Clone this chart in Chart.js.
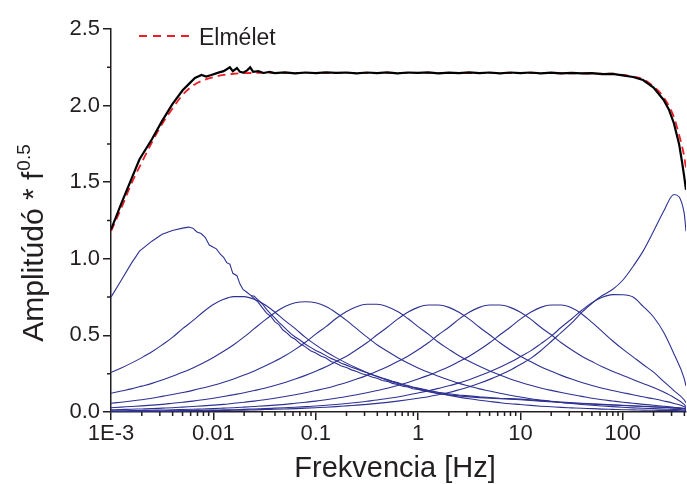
<!DOCTYPE html>
<html>
<head>
<meta charset="utf-8">
<script src="https://cdn.jsdelivr.net/npm/chart.js@4.4.1/dist/chart.umd.min.js"></script>
<style>
  html, body { margin: 0; padding: 0; background: #fff; }
  canvas { display: block; }
</style>
</head>
<body>
<canvas id="myChart" width="687" height="484"></canvas>
<script>
// shared frequency grid (Hz) for the smooth band curves
const freq = [0.001, 0.00126, 0.00158, 0.002, 0.00251, 0.00316, 0.00398, 0.00501, 0.00631, 0.00794,
  0.01, 0.0126, 0.0158, 0.02, 0.0251, 0.0316, 0.0398, 0.0501, 0.0631, 0.0794,
  0.1, 0.126, 0.158, 0.2, 0.251, 0.316, 0.398, 0.501, 0.631, 0.794,
  1, 1.26, 1.58, 2, 2.51, 3.16, 3.98, 5.01, 6.31, 7.94,
  10, 12.6, 15.8, 20, 25.1, 31.6, 39.8, 50.1, 63.1, 79.4,
  100, 126, 158, 200, 251, 316, 398, 415];

// lowest band is noisy, so it has its own, denser grid
const band1Freq = [0.001, 0.00126, 0.00158, 0.0019, 0.00251, 0.00316, 0.00398, 0.00501, 0.00575, 0.00631,
  0.00692, 0.00759, 0.00832, 0.00912, 0.01, 0.0107, 0.0117, 0.0126, 0.0135, 0.0145,
  0.0155, 0.017, 0.0182, 0.0195, 0.0214, 0.0234, 0.0251, 0.0275, 0.0302, 0.0331,
  0.0363, 0.0398, 0.0437, 0.0479, 0.0525, 0.0575, 0.0631, 0.0708, 0.0794, 0.0891,
  0.1, 0.112, 0.126, 0.141, 0.158, 0.178, 0.2, 0.224, 0.251, 0.282,
  0.316, 0.355, 0.398, 0.447, 0.501, 0.562, 0.631, 0.708, 0.794, 0.891,
  1, 1.26, 1.58, 2, 2.51, 3.16, 3.98, 5.01, 6.31, 7.94,
  10, 15.8, 25.1, 39.8, 63.1, 100, 158, 251, 398, 415];
const band1 = [0.75, 0.86, 0.97, 1.05, 1.115, 1.16, 1.185, 1.2, 1.207, 1.2,
  1.175, 1.165, 1.14, 1.09, 1.075, 1.065, 1.03, 1.01, 0.975, 0.965,
  0.905, 0.89, 0.835, 0.80, 0.78, 0.76, 0.74, 0.715, 0.68, 0.645,
  0.625, 0.59, 0.57, 0.535, 0.515, 0.49, 0.475, 0.445, 0.425, 0.40,
  0.385, 0.365, 0.352, 0.33, 0.318, 0.30, 0.29, 0.275, 0.265, 0.25,
  0.242, 0.228, 0.22, 0.206, 0.20, 0.187, 0.18, 0.168, 0.163, 0.152,
  0.147, 0.132, 0.12, 0.112, 0.105, 0.099, 0.094, 0.09, 0.086, 0.083,
  0.08, 0.07, 0.062, 0.054, 0.048, 0.042, 0.036, 0.03, 0.022, 0.018];

// second noisy trace running just above the lowest band's tail
const band1bFreq = [0.0234, 0.0251, 0.0275, 0.0302, 0.0331, 0.0363, 0.0398, 0.0437, 0.0479, 0.0525,
  0.0575, 0.0631, 0.0708, 0.0794, 0.0891, 0.1, 0.112, 0.126, 0.141, 0.158,
  0.178, 0.2, 0.224, 0.251, 0.282, 0.316, 0.355, 0.398, 0.447, 0.501,
  0.562, 0.631, 0.708, 0.794, 0.891, 1, 1.26, 1.58, 2, 2.51,
  3.16, 3.98, 5.01, 6.31, 7.94, 10, 15.8, 25.1, 39.8, 63.1,
  100, 158, 251, 398, 415];
const band1b = [0.76, 0.755, 0.73, 0.705, 0.67, 0.64, 0.615, 0.585, 0.56, 0.535,
  0.51, 0.49, 0.468, 0.442, 0.422, 0.402, 0.386, 0.368, 0.35, 0.336,
  0.318, 0.306, 0.292, 0.28, 0.267, 0.256, 0.243, 0.233, 0.221, 0.212,
  0.20, 0.192, 0.18, 0.173, 0.163, 0.156, 0.141, 0.128, 0.119, 0.111,
  0.105, 0.099, 0.095, 0.09, 0.087, 0.084, 0.074, 0.065, 0.057, 0.05,
  0.044, 0.038, 0.031, 0.023, 0.019];

const band2 = [0.258, 0.287, 0.319, 0.355, 0.393, 0.438, 0.487, 0.544, 0.596, 0.653,
  0.702, 0.736, 0.753, 0.753, 0.736, 0.702, 0.653, 0.596, 0.544, 0.487,
  0.438, 0.393, 0.355, 0.319, 0.287, 0.258, 0.232, 0.208, 0.187, 0.168,
  0.151, 0.136, 0.122, 0.109, 0.097, 0.086, 0.077, 0.069, 0.061, 0.054,
  0.049, 0.043, 0.038, 0.034, 0.030, 0.027, 0.024, 0.022, 0.019, 0.017,
  0.015, 0.014, 0.012, 0.011, 0.010, 0.009, 0.007, 0.006];
const band3 = [0.122, 0.137, 0.151, 0.169, 0.187, 0.209, 0.234, 0.259, 0.288, 0.320,
  0.356, 0.396, 0.439, 0.490, 0.544, 0.598, 0.648, 0.688, 0.713, 0.72,
  0.713, 0.688, 0.648, 0.598, 0.544, 0.490, 0.439, 0.396, 0.356, 0.320,
  0.288, 0.259, 0.234, 0.209, 0.187, 0.169, 0.151, 0.137, 0.122, 0.109,
  0.098, 0.087, 0.078, 0.069, 0.062, 0.055, 0.049, 0.044, 0.039, 0.035,
  0.031, 0.027, 0.024, 0.022, 0.019, 0.017, 0.012, 0.01];
const band4 = [0.057, 0.064, 0.072, 0.080, 0.090, 0.102, 0.114, 0.127, 0.141, 0.157,
  0.174, 0.194, 0.216, 0.241, 0.268, 0.298, 0.331, 0.367, 0.409, 0.455,
  0.508, 0.557, 0.610, 0.656, 0.687, 0.703, 0.703, 0.687, 0.656, 0.610,
  0.557, 0.508, 0.455, 0.409, 0.367, 0.331, 0.298, 0.268, 0.241, 0.216,
  0.194, 0.174, 0.157, 0.141, 0.127, 0.114, 0.102, 0.090, 0.080, 0.072,
  0.064, 0.057, 0.050, 0.044, 0.038, 0.031, 0.022, 0.017];
const band5 = [0.028, 0.032, 0.036, 0.040, 0.045, 0.050, 0.057, 0.064, 0.071, 0.080,
  0.090, 0.101, 0.113, 0.126, 0.140, 0.155, 0.173, 0.193, 0.215, 0.239,
  0.266, 0.295, 0.329, 0.364, 0.406, 0.452, 0.504, 0.553, 0.606, 0.651,
  0.683, 0.698, 0.698, 0.683, 0.651, 0.606, 0.553, 0.504, 0.452, 0.406,
  0.364, 0.329, 0.295, 0.266, 0.239, 0.215, 0.193, 0.173, 0.155, 0.140,
  0.126, 0.113, 0.099, 0.086, 0.072, 0.056, 0.034, 0.025];
const band6 = [0.014, 0.016, 0.018, 0.020, 0.022, 0.025, 0.028, 0.032, 0.036, 0.040,
  0.045, 0.050, 0.057, 0.064, 0.071, 0.080, 0.090, 0.101, 0.113, 0.126,
  0.140, 0.155, 0.173, 0.193, 0.215, 0.239, 0.266, 0.295, 0.329, 0.364,
  0.406, 0.452, 0.504, 0.553, 0.606, 0.651, 0.683, 0.698, 0.698, 0.683,
  0.651, 0.606, 0.553, 0.504, 0.452, 0.406, 0.364, 0.329, 0.295, 0.266,
  0.239, 0.212, 0.186, 0.160, 0.130, 0.095, 0.05, 0.035];
const band7 = [0.007, 0.008, 0.009, 0.010, 0.011, 0.013, 0.014, 0.016, 0.018, 0.020,
  0.022, 0.025, 0.028, 0.032, 0.036, 0.040, 0.045, 0.050, 0.057, 0.064,
  0.071, 0.080, 0.090, 0.101, 0.113, 0.126, 0.140, 0.155, 0.173, 0.193,
  0.215, 0.239, 0.266, 0.295, 0.329, 0.364, 0.406, 0.452, 0.504, 0.553,
  0.606, 0.651, 0.683, 0.698, 0.698, 0.680, 0.640, 0.585, 0.525, 0.465,
  0.41, 0.36, 0.31, 0.26, 0.20, 0.14, 0.08, 0.06];
const band8 = [0.004, 0.004, 0.005, 0.005, 0.006, 0.007, 0.008, 0.009, 0.010, 0.011,
  0.012, 0.014, 0.015, 0.017, 0.020, 0.022, 0.025, 0.028, 0.031, 0.035,
  0.039, 0.044, 0.049, 0.055, 0.062, 0.070, 0.078, 0.088, 0.098, 0.111,
  0.124, 0.138, 0.154, 0.171, 0.190, 0.211, 0.236, 0.263, 0.292, 0.324,
  0.361, 0.399, 0.445, 0.495, 0.553, 0.607, 0.664, 0.714, 0.749, 0.766,
  0.765, 0.75, 0.69, 0.62, 0.52, 0.38, 0.22, 0.17];
const band9 = [0.003, 0.003, 0.004, 0.004, 0.005, 0.005, 0.006, 0.006, 0.007, 0.008,
  0.009, 0.010, 0.011, 0.012, 0.014, 0.016, 0.018, 0.020, 0.022, 0.025,
  0.028, 0.031, 0.035, 0.040, 0.045, 0.050, 0.056, 0.063, 0.071, 0.080,
  0.090, 0.100, 0.113, 0.127, 0.145, 0.165, 0.188, 0.213, 0.242, 0.273,
  0.31, 0.35, 0.40, 0.46, 0.52, 0.58, 0.65, 0.71, 0.76, 0.80,
  0.86, 0.95, 1.05, 1.18, 1.31, 1.42, 1.30, 1.18];

// measured total (black)
const measFreq = [0.001, 0.00126, 0.00158, 0.0019, 0.00251, 0.00316, 0.00398, 0.00501, 0.00575, 0.00661,
  0.00767, 0.00851, 0.00955, 0.0112, 0.0126, 0.0145, 0.0155, 0.017, 0.0182, 0.0195,
  0.0214, 0.0229, 0.0245, 0.0275, 0.0309, 0.0355, 0.0398, 0.0501, 0.0631, 0.0794,
  0.1, 0.126, 0.158, 0.2, 0.251, 0.316, 0.398, 0.501, 0.631, 0.794,
  1, 1.26, 1.58, 2, 2.51, 3.16, 3.98, 5.01, 6.31, 7.94,
  10, 12.6, 15.8, 20, 25.1, 31.6, 39.8, 50.1, 63.1, 79.4,
  100, 126, 158, 200, 251, 282, 316, 355, 380, 398, 415];
const measVal = [1.19, 1.36, 1.52, 1.65, 1.78, 1.90, 2.01, 2.10, 2.14, 2.18,
  2.20, 2.19, 2.20, 2.215, 2.225, 2.25, 2.225, 2.245, 2.22, 2.215,
  2.23, 2.25, 2.22, 2.225, 2.213, 2.22, 2.212, 2.217, 2.211, 2.216,
  2.212, 2.217, 2.213, 2.216, 2.211, 2.216, 2.212, 2.217, 2.211, 2.216,
  2.213, 2.217, 2.211, 2.215, 2.212, 2.217, 2.212, 2.216, 2.211, 2.216,
  2.212, 2.216, 2.211, 2.215, 2.211, 2.214, 2.21, 2.212, 2.206, 2.207,
  2.197, 2.187, 2.167, 2.117, 2.037, 1.975, 1.885, 1.75, 1.63, 1.54, 1.45];

// theory (red dashed)
const theoryFreq = [0.001, 0.00126, 0.00158, 0.002, 0.00251, 0.00316, 0.00398, 0.00501, 0.00631, 0.00794,
  0.01, 0.0126, 0.0158, 0.025, 1, 79.4, 100, 126, 158, 200, 251, 316, 355, 398, 415];
const theoryVal = [1.18, 1.33, 1.49, 1.63, 1.76, 1.88, 1.98, 2.07, 2.13, 2.165,
  2.185, 2.2, 2.208, 2.213, 2.213, 2.208, 2.2, 2.19, 2.172, 2.125, 2.055, 1.925, 1.81, 1.67, 1.59];

const xMajorTicks = [0.001, 0.01, 0.1, 1, 10, 100];
const xTickLabels = ["1E-3", "0.01", "0.1", "1", "10", "100"];
const xMinorTicks = [0.002, 0.003, 0.004, 0.005, 0.006, 0.007, 0.008, 0.009,
  0.02, 0.03, 0.04, 0.05, 0.06, 0.07, 0.08, 0.09,
  0.2, 0.3, 0.4, 0.5, 0.6, 0.7, 0.8, 0.9,
  2, 3, 4, 5, 6, 7, 8, 9,
  20, 30, 40, 50, 60, 70, 80, 90,
  200, 300, 400];
const yMinorTicks = [0.25, 0.75, 1.25, 1.75, 2.25];

const ink = "#231f20";
const blue = "#2e3192";
const font = "'Liberation Sans', Arial, sans-serif";

const toPoints = (xs, ys) => xs.map((f, i) => ({ x: f, y: ys[i] }));

const noisyLine = (label, xs, ys) => ({
  label,
  data: toPoints(xs, ys),
  borderColor: blue,
  borderWidth: 1.1,
  pointRadius: 0,
  tension: 0,
  order: 3,
});

const smoothBands = [band2, band3, band4, band5, band6, band7, band8, band9];
const bandSets = smoothBands.map((b, i) => ({
  label: "band" + (i + 2),
  data: toPoints(freq, b),
  borderColor: blue,
  borderWidth: 1.1,
  pointRadius: 0,
  cubicInterpolationMode: "monotone",
  order: 3,
}));

const extras = {
  id: "extras",
  afterDraw(chart) {
    const { ctx, chartArea, scales } = chart;
    const x = scales.x, y = scales.y;
    ctx.save();
    ctx.strokeStyle = ink;
    ctx.lineWidth = 1.5;
    ctx.beginPath();
    xMinorTicks.forEach((v) => {
      const px = x.getPixelForValue(v);
      if (px > chartArea.right + 0.5) return;
      ctx.moveTo(px, chartArea.bottom);
      ctx.lineTo(px, chartArea.bottom + 4);
    });
    yMinorTicks.forEach((v) => {
      const py = y.getPixelForValue(v);
      ctx.moveTo(chartArea.left, py);
      ctx.lineTo(chartArea.left - 4, py);
    });
    ctx.stroke();

    // legend inside the plot
    ctx.strokeStyle = "#ee1c25";
    ctx.lineWidth = 2;
    ctx.setLineDash([8, 6]);
    ctx.beginPath();
    ctx.moveTo(139, 36);
    ctx.lineTo(192, 36);
    ctx.stroke();
    ctx.setLineDash([]);
    ctx.fillStyle = ink;
    ctx.font = "23px " + font;
    ctx.textBaseline = "alphabetic";
    ctx.textAlign = "left";
    ctx.fillText("Elmélet", 199, 45);

    // axis titles
    ctx.font = "29px " + font;
    ctx.textAlign = "center";
    ctx.fillText("Frekvencia [Hz]", 395, 477);

    ctx.translate(43, 243);
    ctx.rotate(-Math.PI / 2);
    ctx.textAlign = "left";
    ctx.font = "30px " + font;
    const main = "Amplitúdó * f";
    const w1 = ctx.measureText(main).width;
    ctx.font = "19px " + font;
    const w2 = ctx.measureText("0.5").width;
    const x0 = -(w1 + w2 + 1) / 2;
    ctx.font = "30px " + font;
    ctx.fillText(main, x0, 0);
    ctx.font = "19px " + font;
    ctx.fillText("0.5", x0 + w1 + 1, -13);
    ctx.restore();
  },
};

new Chart(document.getElementById("myChart"), {
  type: "line",
  data: {
    datasets: [
      {
        label: "measured",
        data: toPoints(measFreq, measVal),
        borderColor: "#000",
        borderWidth: 2.2,
        pointRadius: 0,
        tension: 0,
        order: 1,
      },
      {
        label: "Elmélet",
        data: toPoints(theoryFreq, theoryVal),
        borderColor: "#ee1c25",
        borderWidth: 1.8,
        borderDash: [8, 5],
        pointRadius: 0,
        cubicInterpolationMode: "monotone",
        order: 2,
      },
      noisyLine("band1", band1Freq, band1),
      noisyLine("band1b", band1bFreq, band1b),
      ...bandSets,
    ],
  },
  options: {
    responsive: false,
    animation: false,
    devicePixelRatio: 1,
    layout: { padding: { top: 29, right: 1, left: 0, bottom: 0 } },
    plugins: { legend: { display: false }, tooltip: { enabled: false } },
    scales: {
      x: {
        type: "logarithmic",
        min: 0.001,
        max: 415,
        afterBuildTicks: (scale) => {
          scale.ticks = xMajorTicks.map((v) => ({ value: v, major: true }));
        },
        afterFit: (scale) => {
          scale.height = 72;
        },
        ticks: {
          autoSkip: false,
          maxRotation: 0,
          padding: 1,
          color: ink,
          font: { family: font, size: 22 },
          callback: (v, i) => xTickLabels[i],
        },
        grid: { drawOnChartArea: false, tickLength: 8, color: ink, lineWidth: 1.5 },
        border: { color: ink, width: 1.5 },
      },
      y: {
        min: 0,
        max: 2.5,
        afterFit: (scale) => {
          scale.width = 111;
        },
        ticks: {
          stepSize: 0.5,
          padding: 3,
          color: ink,
          font: { family: font, size: 22 },
          callback: (v) => v.toFixed(1),
        },
        grid: { drawOnChartArea: false, tickLength: 8, color: ink, lineWidth: 1.5 },
        border: { color: ink, width: 1.5 },
      },
    },
  },
  plugins: [extras],
});
</script>
</body>
</html>
